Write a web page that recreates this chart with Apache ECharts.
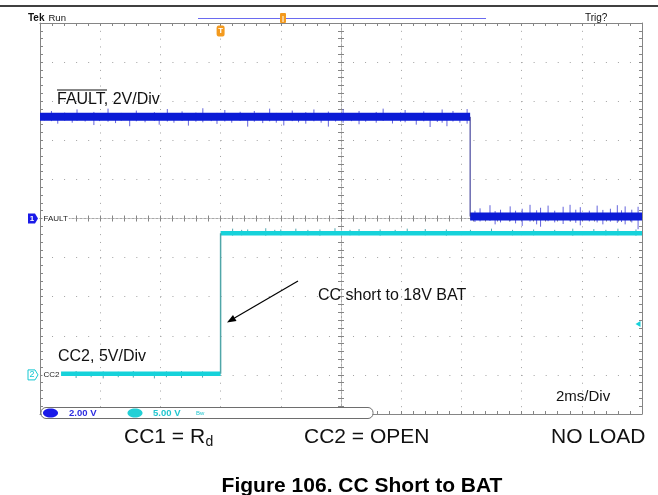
<!DOCTYPE html>
<html>
<head>
<meta charset="utf-8">
<title>Figure 106. CC Short to BAT</title>
<script src="https://cdn.jsdelivr.net/npm/echarts@6/dist/echarts.min.js"></script>
<style>
  html, body { margin: 0; padding: 0; background: #fff; }
  #chart { width: 658px; height: 495px; }
</style>
</head>
<body>
<div id="chart"></div>
<script>
// time axis: ms relative to screen centre, 2 ms/div, 10 div
const timeRange = [-10, 10];
// ch1 (FAULT) 2 V/div, ground on centre line
const ch1Range = [-10, 10];
// ch2 (CC2) 5 V/div, ground 4 div below centre
const ch2Range = [-5, 45];

// FAULT trace: start, falling edge, end (ms) and level before / after the edge (V)
const faultTimes = [-10, 4.29, 10];
const faultLevels = [5.2, 0.1];
// CC2 trace: start, rising edge, end (ms) and level before / after (V)
const cc2Times = [-9.3, -4.0, 10];
const cc2Levels = [0.15, 18.1];
const trigTime = -4.0;
const cc2TrigLevel = 6.5;

// noise spikes: [ms, top V, bottom V]
const faultSpikes = [
  [-9.85, 5.38, 5.02], [-9.62, 5.5, 4.98], [-9.41, 5.36, 4.85], [-9.18, 5.42, 5.0],
  [-8.93, 5.33, 4.9], [-8.77, 5.58, 5.0], [-8.5, 5.37, 4.96], [-8.21, 5.45, 4.78],
  [-8.02, 5.35, 4.98], [-7.74, 5.62, 4.95], [-7.49, 5.38, 4.88], [-7.3, 5.4, 5.0],
  [-7.02, 5.34, 4.72], [-6.8, 5.52, 4.97], [-6.51, 5.36, 4.92], [-6.2, 5.44, 5.0],
  [-6.04, 5.38, 4.8], [-5.77, 5.6, 4.96], [-5.55, 5.35, 4.9], [-5.28, 5.48, 4.99],
  [-5.07, 5.37, 4.75], [-4.82, 5.42, 4.95], [-4.59, 5.64, 4.92], [-4.31, 5.36, 4.98],
  [-4.12, 5.4, 4.84], [-3.86, 5.55, 4.96], [-3.63, 5.34, 4.9], [-3.35, 5.46, 5.0],
  [-3.1, 5.38, 4.7], [-2.88, 5.5, 4.95], [-2.6, 5.36, 4.88], [-2.37, 5.62, 4.97],
  [-2.15, 5.4, 4.9], [-1.9, 5.35, 4.76], [-1.62, 5.52, 4.98], [-1.41, 5.38, 4.92],
  [-1.17, 5.44, 4.85], [-0.9, 5.58, 4.97], [-0.66, 5.36, 4.9], [-0.42, 5.47, 4.7],
  [-0.18, 5.39, 4.96], [0.07, 5.6, 4.9], [0.35, 5.37, 4.98], [0.6, 5.5, 4.82],
  [0.82, 5.36, 4.95], [1.17, 5.45, 4.9], [1.4, 5.62, 4.99], [1.71, 5.38, 4.86],
  [1.98, 5.42, 4.95], [2.13, 5.55, 4.92], [2.5, 5.36, 4.8], [2.75, 5.48, 4.97],
  [2.96, 5.4, 4.68], [3.2, 5.35, 4.94], [3.36, 5.58, 4.9], [3.52, 5.38, 4.72],
  [3.72, 5.5, 4.96], [3.95, 5.37, 4.9], [4.19, 5.6, 4.85],
  [4.45, 0.4, -0.18], [4.62, 0.52, -0.15], [4.95, 0.68, -0.12], [5.12, 0.38, -0.3],
  [5.3, 0.45, -0.2], [5.62, 0.62, -0.14], [5.8, 0.4, -0.25], [6.02, 0.5, -0.38],
  [6.28, 0.7, -0.16], [6.5, 0.42, -0.3], [6.63, 0.55, -0.42], [6.88, 0.66, -0.14],
  [7.1, 0.4, -0.2], [7.38, 0.6, -0.28], [7.61, 0.7, -0.15], [7.8, 0.45, -0.22],
  [7.95, 0.58, -0.35], [8.25, 0.4, -0.15], [8.51, 0.66, -0.2], [8.7, 0.44, -0.3],
  [8.95, 0.5, -0.16], [9.18, 0.68, -0.22], [9.32, 0.42, -0.18], [9.44, 0.62, -0.3],
  [9.66, 0.45, -0.2], [9.87, 0.6, -0.55]
];
const cc2Spikes = [
  [-8.8, 0.5, -0.4], [-8.3, 0.4, -0.3], [-7.9, 0.45, -0.45], [-7.4, 0.4, -0.3],
  [-6.9, 0.5, -0.35], [-6.2, 0.4, -0.45], [-5.8, 0.45, -0.3], [-5.3, 0.5, -0.4],
  [-4.6, 0.45, -0.35],
  [-3.6, 18.7, 17.8], [-3.3, 18.55, 17.85], [-3.1, 18.6, 17.9], [-2.5, 18.75, 17.8],
  [-2.2, 18.55, 17.9], [-2.0, 18.6, 17.85], [-1.5, 18.7, 17.9], [-1.1, 18.55, 17.85],
  [-0.7, 18.6, 17.8], [-0.2, 18.75, 17.9], [0.3, 18.55, 17.85], [0.6, 18.65, 17.85],
  [1.3, 18.6, 17.8], [1.8, 18.55, 17.9], [2.2, 18.7, 17.9], [2.8, 18.65, 17.85],
  [3.5, 18.6, 17.8], [4.3, 18.55, 17.9], [5.0, 18.7, 17.9], [5.7, 18.55, 17.85],
  [6.4, 18.6, 17.85], [7.1, 18.55, 17.9], [7.7, 18.7, 17.8], [8.4, 18.65, 17.9],
  [8.8, 18.55, 17.85], [9.2, 18.7, 17.85], [9.8, 18.6, 17.8]
];

const font = '"Liberation Sans", Arial, Helvetica, sans-serif';
const gridColor = '#a2a2a2';
const frameColor = '#858585';

function bandData(times, levels) {
  return [
    [times[0], levels[0]], [times[1], levels[0]], [times[1], null],
    [times[1], levels[1]], [times[2], levels[1]]
  ];
}
function edgeData(times, levels) {
  return [[times[1], levels[0]], [times[1], levels[1]]];
}
function spikeData(spikes) {
  var out = [];
  spikes.forEach(function (s) {
    out.push([s[0], s[1]], [s[0], s[2]], [s[0], null]);
  });
  return out;
}

// graticule: border axes + centre crosshair axes (onZero)
function timeAxis(pos, centre, split) {
  return {
    type: 'value', min: timeRange[0], max: timeRange[1], interval: 2, position: pos,
    axisLine: {
      show: true, onZero: centre, onZeroAxisIndex: 0,
      lineStyle: centre ? { color: '#a8a8a8', type: [2, 2] } : { color: frameColor }
    },
    axisTick: { show: true, inside: true, length: 3, lineStyle: { color: frameColor } },
    minorTick: { show: true, splitNumber: 5, length: 3, lineStyle: { color: frameColor } },
    axisLabel: { show: false },
    splitLine: { show: split, lineStyle: { color: gridColor, type: [1, 6.82] } }
  };
}
function voltAxis(range, interval, pos, centre, split) {
  return {
    type: 'value', min: range[0], max: range[1], interval: interval, position: pos,
    axisLine: {
      show: true, onZero: centre, onZeroAxisIndex: 0,
      lineStyle: centre ? { color: '#a8a8a8', type: [2, 2] } : { color: frameColor }
    },
    axisTick: { show: true, inside: true, length: 3, lineStyle: { color: frameColor } },
    minorTick: { show: true, splitNumber: 5, length: 3, lineStyle: { color: frameColor } },
    axisLabel: { show: false },
    splitLine: { show: split, lineStyle: { color: gridColor, type: [1, 11.04] } }
  };
}

function txt(text, x, y, size, extra) {
  return {
    type: 'text', z: 100, x: x, y: y,
    style: Object.assign({
      text: text, fontSize: size, fontFamily: font, fill: '#111',
      textVerticalAlign: 'middle'
    }, extra || {})
  };
}

var chart = echarts.init(document.getElementById('chart'));

const option = {
  backgroundColor: '#fff',
  animation: false,
  grid: { left: 40, right: 16, top: 23, bottom: 81 },
  xAxis: [
    timeAxis('bottom', false, true),
    timeAxis('top', false, false),
    timeAxis('bottom', true, false),
    timeAxis('top', true, false)
  ],
  yAxis: [
    voltAxis(ch1Range, 2, 'left', false, true),
    voltAxis(ch2Range, 5, 'right', false, false),
    voltAxis(ch1Range, 2, 'left', true, false),
    voltAxis(ch1Range, 2, 'right', true, false)
  ],
  series: [
    {
      name: 'FAULT spikes', type: 'line', xAxisIndex: 0, yAxisIndex: 0,
      data: spikeData(faultSpikes), symbol: 'none', connectNulls: false,
      lineStyle: { color: '#6464dc', width: 1 }, z: 3
    },
    {
      name: 'FAULT', type: 'line', xAxisIndex: 0, yAxisIndex: 0,
      data: bandData(faultTimes, faultLevels), symbol: 'none', connectNulls: false,
      clip: false,
      lineStyle: { color: '#0b1bd6', width: 8 }, z: 4,
      markPoint: {
        data: [
          {
            coord: [timeRange[0], 0], symbol: 'path://M0,0 H7 L10,5 L7,10 H0 Z',
            symbolSize: [10, 10], symbolOffset: [-7, 0],
            itemStyle: { color: '#1a1ae8' },
            label: { show: true, position: 'inside', formatter: '1', color: '#fff', fontSize: 8, fontWeight: 'bold', fontFamily: font, offset: [-1, 0] }
          },
          {
            coord: [timeRange[0], 0], symbol: 'circle', symbolSize: 1,
            itemStyle: { color: 'rgba(0,0,0,0)' },
            label: { show: true, position: 'right', distance: 2, formatter: 'FAULT', color: '#222', fontSize: 8, fontFamily: font, backgroundColor: '#fff', padding: [0, 1] }
          },
          {
            coord: [trigTime, ch1Range[1]], symbol: 'roundRect', symbolSize: [8, 11],
            symbolOffset: [0, 8], itemStyle: { color: '#f39a1e' },
            label: { show: true, position: 'inside', formatter: 'T', color: '#fff', fontSize: 8, fontWeight: 'bold', fontFamily: font }
          }
        ]
      }
    },
    {
      name: 'FAULT edge', type: 'line', xAxisIndex: 0, yAxisIndex: 0,
      data: edgeData(faultTimes, faultLevels), symbol: 'none',
      lineStyle: { color: '#22228a', width: 1 }, z: 5
    },
    {
      name: 'CC2 spikes', type: 'line', xAxisIndex: 0, yAxisIndex: 1,
      data: spikeData(cc2Spikes), symbol: 'none', connectNulls: false,
      lineStyle: { color: '#52a8b0', width: 1 }, z: 3
    },
    {
      name: 'CC2', type: 'line', xAxisIndex: 0, yAxisIndex: 1,
      data: bandData(cc2Times, cc2Levels), symbol: 'none', connectNulls: false,
      clip: false,
      lineStyle: { color: '#16d2da', width: 4.5 }, z: 4,
      markPoint: {
        data: [
          {
            coord: [timeRange[0], 0], symbol: 'path://M0,0 H7 L10,5 L7,10 H0 Z',
            symbolSize: [10, 10], symbolOffset: [-7, 0],
            itemStyle: { color: '#fff', borderColor: '#16c8d2', borderWidth: 1 },
            label: { show: true, position: 'inside', formatter: '2', color: '#16c8d2', fontSize: 9, fontFamily: font, offset: [-1, 0] }
          },
          {
            coord: [timeRange[0], 0], symbol: 'circle', symbolSize: 1,
            itemStyle: { color: 'rgba(0,0,0,0)' },
            label: { show: true, position: 'right', distance: 2, formatter: 'CC2', color: '#222', fontSize: 8, fontFamily: font, backgroundColor: '#fff', padding: [0, 1] }
          },
          {
            coord: [timeRange[1], cc2TrigLevel], symbol: 'triangle', symbolRotate: 90,
            symbolSize: [6, 5], symbolOffset: [-4, 0], itemStyle: { color: '#16d2da' },
            label: { show: false }
          }
        ]
      }
    },
    {
      name: 'CC2 edge', type: 'line', xAxisIndex: 0, yAxisIndex: 1,
      data: edgeData(cc2Times, cc2Levels), symbol: 'none',
      lineStyle: { color: '#4fa6a8', width: 1.5 }, z: 5
    }
  ],
  graphic: [
    // page rule and scope header
    { type: 'line', z: 100, shape: { x1: 0, y1: 6, x2: 658, y2: 6 }, style: { stroke: '#000', lineWidth: 1.5 } },
    { type: 'line', z: 100, shape: { x1: 198, y1: 18.5, x2: 486, y2: 18.5 }, style: { stroke: '#6a6af0', lineWidth: 1.2 } },
    { type: 'rect', z: 101, shape: { x: 280, y: 13, width: 6, height: 10, r: 1 }, style: { fill: '#f39a1e' } },
    { type: 'line', z: 102, shape: { x1: 283, y1: 16, x2: 283, y2: 22 }, style: { stroke: '#fff', lineWidth: 1 } },
    txt('Tek', 28, 18, 10, { fontWeight: 'bold' }),
    txt('Run', 48.5, 18, 9.5),
    txt('Trig?', 585, 18, 10),

    // trace annotations
    txt('FAULT, 2V/Div', 57, 100, 16),
    { type: 'line', z: 100, shape: { x1: 57, y1: 90, x2: 107, y2: 90 }, style: { stroke: '#111', lineWidth: 1.2 } },
    txt('CC2, 5V/Div', 58, 356.5, 16),
    txt('CC short to 18V BAT', 318, 295.5, 16),
    { type: 'line', z: 100, shape: { x1: 298, y1: 281, x2: 234.5, y2: 318 }, style: { stroke: '#000', lineWidth: 1.2 } },
    { type: 'polygon', z: 100, shape: { points: [[227, 322.5], [236.5, 321], [233, 314.9]] }, style: { fill: '#000' } },
    txt('2ms/Div', 556, 397, 15),

    // status bar
    { type: 'rect', z: 100, shape: { x: 41, y: 407.5, width: 332, height: 11, r: 5 }, style: { fill: '#fff', stroke: '#6e6e6e', lineWidth: 1 } },
    { type: 'ellipse', z: 101, shape: { cx: 50.5, cy: 413, rx: 7.5, ry: 4.5 }, style: { fill: '#1a1ae8' } },
    txt('1', 48, 413.5, 9, { fontWeight: 'bold', fill: '#000' }),
    txt('2.00 V', 69, 413.5, 9.5, { fontWeight: 'bold', fill: '#2d2de0' }),
    { type: 'ellipse', z: 101, shape: { cx: 135, cy: 413, rx: 7.5, ry: 4.5 }, style: { fill: '#22d0d6' } },
    txt('2', 132.5, 413.5, 9, { fontWeight: 'bold', fill: '#000' }),
    txt('5.00 V', 153, 413.5, 9.5, { fontWeight: 'bold', fill: '#22c6cf' }),
    txt('Bw', 196, 413, 6, { fill: '#22c6cf' }),

    // test conditions and caption
    txt('CC1 = R', 124, 437, 21),
    txt('d', 205.5, 442, 14),
    txt('CC2 = OPEN', 304, 437, 21),
    txt('NO LOAD', 551, 437, 21),
    txt('Figure 106. CC Short to BAT', 362, 486, 21, { fontWeight: 'bold', textAlign: 'center', fill: '#000' })
  ]
};

chart.setOption(option);
window.addEventListener('resize', function () {
  chart.resize();
});
</script>
</body>
</html>
